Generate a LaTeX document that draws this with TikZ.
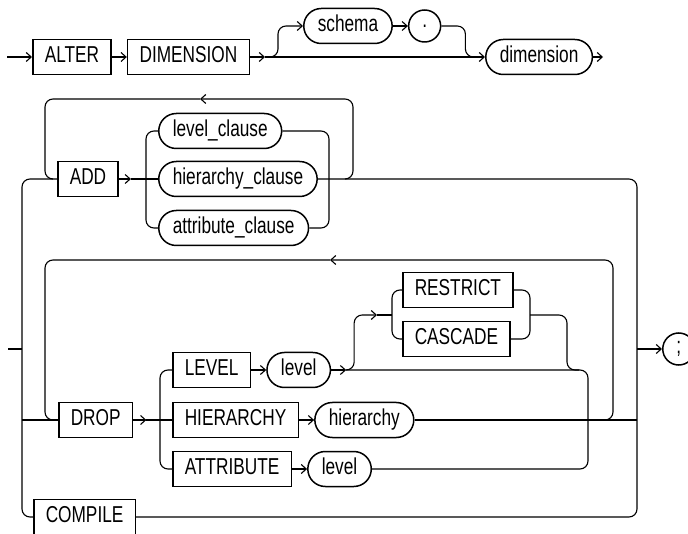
\documentclass[tikz,border=0pt]{standalone}
\usepackage{fontspec}
\setmainfont{Liberation Sans}[FakeStretch=0.75]
\usetikzlibrary{arrows.meta,positioning}

\begin{document}
\begin{tikzpicture}[
    x=1pt, y=-1pt,
    font=\fontsize{23}{26}\selectfont,
    node distance=15pt,
    kw/.style={draw, line width=1.5pt, minimum height=35pt, inner xsep=12pt, inner ysep=0pt, text height=16pt, text depth=5pt},
    term/.style={draw, line width=1.5pt, rounded corners=17.5pt, minimum height=35pt, inner xsep=14pt, inner ysep=0pt, text height=16pt, text depth=5pt},
    sym/.style={draw, line width=1.5pt, circle, minimum size=32pt, inner sep=0pt},
    rail/.style={line width=1.1pt, rounded corners=8pt},
    arrow/.style={rail, -{Straight Barb[length=5pt, width=9pt]}}
  ]
    \useasboundingbox (0,0) rectangle (688,534);

    % first line
    \coordinate (start) at (7,57);
    \node[kw, anchor=west] (alter) at (32,57) {ALTER};
    \node[kw, right=of alter] (dimkw) {DIMENSION};
    \coordinate (fork1) at (265,57);
    \node[term, anchor=west] (schema) at (303,26) {schema};
    \node[sym, right=of schema] (dot) {.};
    \node[term, anchor=west] (dimension) at (485,57) {dimension};
    \coordinate (end1) at (603,57);

    \draw[arrow] (start) -- (alter);
    \draw[arrow] (alter) -- (dimkw);
    \draw[arrow] (dimkw) -- (fork1);
    \draw[arrow] (fork1) -- ++(13,0) |- (schema.west);
    \draw[arrow] (schema) -- (dot);
    \draw[rail] (dot.east) -| ++(24,31) -- ++(8,0);
    \draw[arrow] (fork1) -- (dimension.west);
    \draw[arrow] (dimension) -- (end1);

    % ADD
    \node[kw, anchor=west] (add) at (57,179) {ADD};
    \node[term, anchor=west] (levelclause) at (158,131) {level\_clause};
    \node[term, anchor=west] (hierclause) at (158,179) {hierarchy\_clause};
    \node[term, anchor=west] (attrclause) at (158,228) {attribute\_clause};
    \coordinate (addsplit) at (146,179);
    \coordinate (addjoin) at (329,179);
    \coordinate (addloop) at (345,179);
    \coordinate (addback) at (200,99);
    \coordinate (addleft) at (45,179);

    \draw[arrow] (add.east) -- ++(12,0) coordinate (addfork);
    \draw[rail] (addfork) -- (hierclause.west);
    \draw[rail] (levelclause.west) -| (addsplit) |- (attrclause.west);
    \draw[rail] (levelclause.east) -| (addjoin) |- (attrclause.east);
    \draw[arrow] (addloop) -| (353,99) -- (addback);
    \draw[rail] (addback) -| (addleft) -- ++(8,0);

    % DROP
    \node[kw, anchor=west] (drop) at (58,420) {DROP};
    \node[kw, anchor=west] (levelkw) at (172,370) {LEVEL};
    \node[kw, anchor=west] (hierkw) at (172,420) {HIERARCHY};
    \node[kw, anchor=west] (attrkw) at (172,469) {ATTRIBUTE};
    \node[term, right=of levelkw] (level1) {level};
    \node[term, right=of hierkw] (hierterm) {hierarchy};
    \node[term, right=of attrkw] (level2) {level};
    \node[kw, anchor=west] (restrict) at (402,290) {RESTRICT};
    \node[kw, anchor=west] (cascade) at (402,339) {CASCADE};
    \coordinate (dropsplit) at (160,420);
    \coordinate (dropjoin) at (588,420);
    \coordinate (optin) at (377,315);
    \coordinate (optsplit) at (392,315);
    \coordinate (optjoin) at (530,315);
    \coordinate (droploop) at (605,420);
    \coordinate (dropback) at (330,260);
    \coordinate (dropleft) at (45,420);

    \draw[arrow] (drop.east) -- ++(13,0) coordinate (dropfork);
    \draw[rail] (dropfork) -- (hierkw.west);
    \draw[rail] (levelkw.west) -| (dropsplit) |- (attrkw.west);
    \draw[arrow] (levelkw) -- (level1);
    \draw[arrow] (hierkw) -- (hierterm);
    \draw[arrow] (attrkw) -- (level2);
    \draw[arrow] (level1.east) -- ++(15,0) coordinate (optfork);
    \draw[arrow] (optfork) -- ++(8,0) |- (optin);
    \draw[rail] (optin) -- (optsplit);
    \draw[rail] (restrict.west) -| (optsplit) |- (cascade.west);
    \draw[rail] (restrict.east) -| (optjoin) |- (cascade.east);
    \draw[rail] (optjoin) -| ++(37,55) -- ++(12,0);
    \draw[rail] (optfork) -| (dropjoin) |- (level2.east);
    \draw[arrow] (droploop) -| (613,260) -- (dropback);
    \draw[rail] (dropback) -| (dropleft) -- ++(8,0);

    % COMPILE and the outer rails
    \node[kw, anchor=west] (compile) at (33,517) {COMPILE};
    \node[sym, anchor=west] (semi) at (662,349) {;};
    \coordinate (entry2) at (8,349);
    \coordinate (ljoin) at (22,349);
    \coordinate (ldrop) at (22,420);
    \coordinate (lbot) at (22,517);
    \coordinate (rdrop) at (637,420);
    \coordinate (rsemi) at (637,349);
    \coordinate (rbot) at (637,517);

    \draw[rail] (entry2) -- (ljoin);
    \draw[rail] (add.west) -| (lbot) -- (compile.west);
    \draw[rail] (ldrop) -- (drop.west);
    \draw[rail] (hierclause.east) -| (rbot) -- (compile.east);
    \draw[rail] (hierterm.east) -- (rdrop);
    \draw[arrow] (rsemi) -- (semi);
  \end{tikzpicture}
\end{document}
